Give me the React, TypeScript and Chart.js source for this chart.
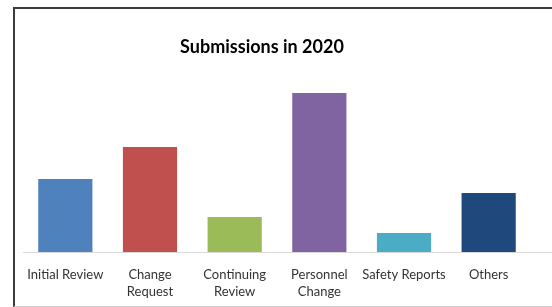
import React, { useEffect, useRef } from "react";
import { Chart, registerables } from "chart.js";

Chart.register(...registerables);

const categories: (string | string[])[] = [
  "Initial Review",
  ["Change", "Request"],
  ["Continuing", "Review"],
  ["Personnel", "Change"],
  "Safety Reports",
  "Others",
];
const submissions: number[] = [73, 105, 35, 159, 19, 59];
const barColors: string[] = ["#4F81BD", "#C0504D", "#9BBB59", "#8064A2", "#4BACC6", "#1F497D"];
const chartTitle = "Submissions in 2020";

const baselinePlugin = {
  id: "baseline",
  afterDatasetsDraw(chart: any) {
    const { ctx, chartArea } = chart;
    ctx.save();
    ctx.strokeStyle = "#D9D9D9";
    ctx.lineWidth = 1;
    ctx.beginPath();
    ctx.moveTo(chartArea.left, chartArea.bottom + 0.5);
    ctx.lineTo(chart.width, chartArea.bottom + 0.5);
    ctx.stroke();
    ctx.restore();
  },
};

const titlePlugin = {
  id: "offsetTitle",
  afterDraw(chart: any) {
    const { ctx } = chart;
    ctx.save();
    ctx.fillStyle = "#000000";
    ctx.font = "bold 18px Lato";
    ctx.textAlign = "center";
    ctx.textBaseline = "middle";
    ctx.fillText(chartTitle, 262, 47);
    ctx.restore();
  },
};

export default function App() {
  const ref = useRef<HTMLCanvasElement>(null);
  useEffect(() => {
    document.body.style.margin = "0";
    const chart = new Chart(ref.current!, {
      type: "bar",
      data: {
        labels: categories,
        datasets: [
          {
            data: submissions,
            backgroundColor: barColors,
            borderWidth: 0,
            categoryPercentage: 1,
            barPercentage: 0.64,
          },
        ],
      },
      options: {
        animation: false,
        responsive: false,
        layout: { padding: { left: 23, right: 21, top: 72, bottom: 0 } },
        plugins: {
          legend: { display: false },
          tooltip: { enabled: false },
          title: { display: false },
        },
        scales: {
          x: {
            grid: { display: false },
            border: { display: false },
            ticks: {
              color: "#333333",
              font: { family: "Lato", size: 13, lineHeight: 1.25 },
              padding: 7,
              maxRotation: 0,
              autoSkip: false,
            },
            afterFit: (scale: any) => {
              scale.height = 55;
            },
          },
          y: {
            display: false,
            min: 0,
            max: 180,
          },
        },
      },
      plugins: [baselinePlugin, titlePlugin],
    });
    return () => chart.destroy();
  }, []);
  return (
    <div style={{ position: "absolute", left: 0, top: 0, width: 552, height: 307, overflow: "hidden", background: "#fff" }}>
      <div
        style={{
          position: "absolute",
          left: 13,
          top: 7,
          width: 560,
          height: 297,
          borderTop: "2px solid #3C3C3C",
          borderLeft: "2px solid #3C3C3C",
          borderBottom: "1px solid #D0D0D0",
        }}
      />
      <canvas ref={ref} width={552} height={307} style={{ position: "absolute", left: 0, top: 0 }} />
    </div>
  );
}
